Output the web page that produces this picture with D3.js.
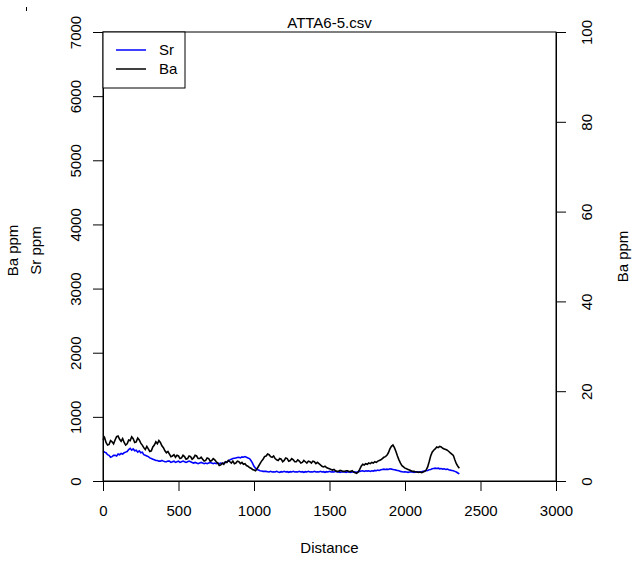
<!DOCTYPE html>
<html>
<head>
<meta charset="utf-8">
<script src="https://cdn.jsdelivr.net/npm/d3@7"></script>
<style>
  body { margin: 0; background: #fff; }
  text { font-family: "Liberation Sans", Arial, sans-serif; }
</style>
</head>
<body>
<div id="chart"></div>
<script>
// ----------------------
// Data
// ----------------------
const title = "ATTA6-5.csv";
const xTicks = [0, 500, 1000, 1500, 2000, 2500, 3000];
const leftTicks = [0, 1000, 2000, 3000, 4000, 5000, 6000, 7000];
const rightTicks = [0, 20, 40, 60, 80, 100];

// distance between samples (first sample at 0)
const step = 10;

const baValues = [
  640, 680, 600, 560, 570, 630, 610, 580, 640, 690,
  700, 650, 620, 660, 600, 560, 580, 640, 630, 690,
  660, 600, 610, 670, 640, 590, 560, 520, 490, 540,
  500, 460, 470, 530, 560, 610, 580, 630, 600, 550,
  520, 470, 440, 460, 420, 380, 390, 410, 370, 400,
  390, 350, 360, 400, 380, 340, 350, 390, 380, 340,
  360, 400, 390, 350, 350, 370, 340, 310, 320, 360,
  350, 310, 320, 350, 330, 300, 280, 240, 250, 280,
  260, 300, 290, 320, 300, 280, 310, 270, 280, 310,
  300, 270, 290, 260, 270, 240, 230, 210, 200, 180,
  170, 160, 190, 230, 270, 310, 340, 380, 390, 420,
  410, 380, 370, 390, 350, 330, 320, 350, 340, 300,
  320, 360, 350, 310, 320, 350, 330, 300, 300, 330,
  310, 280, 290, 320, 300, 280, 310, 300, 280, 310,
  300, 270, 290, 270, 250, 230, 220, 230, 210, 200,
  190, 180, 170, 180, 160, 150, 150, 165, 160, 150,
  150, 160, 160, 145, 150, 160, 140, 130, 120, 140,
  180, 230, 260, 250, 270, 260, 280, 270, 290, 280,
  300, 290, 310, 320, 330, 350, 370, 380, 400, 440,
  500, 540, 560, 520, 460, 390, 330, 280, 240, 220,
  200, 190, 180, 170, 160, 150, 150, 140, 140, 135,
  140, 130, 140, 150, 170, 220, 300, 390, 450, 480,
  500, 530, 520, 540, 530, 510, 500, 490, 480, 460,
  440, 420, 400, 330, 270, 230, 200
];

const srValues = [
  470, 450, 440, 410, 400, 370, 380, 400, 400, 390,
  420, 410, 430, 420, 440, 450, 460, 490, 510, 480,
  500, 470, 480, 450, 470, 440, 450, 410, 400, 390,
  380, 360, 350, 340, 330, 320, 320, 310, 310, 320,
  310, 300, 300, 310, 310, 290, 300, 310, 290, 300,
  310, 290, 300, 310, 300, 290, 300, 310, 300, 290,
  280, 290, 280, 270, 280, 290, 280, 270, 280, 270,
  280, 290, 280, 270, 280, 270, 280, 270, 280, 270,
  280, 290, 300, 310, 330, 340, 350, 355, 360, 365,
  370, 360, 375, 370, 380, 370, 360, 350, 320, 280,
  230, 200, 180, 170, 160, 155, 150, 150, 150, 145,
  140, 150, 140, 145, 140, 150, 140, 135, 145, 140,
  150, 140, 145, 135, 145, 140, 150, 140, 145, 140,
  150, 140, 145, 135, 145, 140, 150, 140, 145, 140,
  150, 140, 145, 140, 150, 140, 145, 135, 145, 140,
  150, 140, 145, 140, 150, 140, 145, 135, 140, 145,
  140, 135, 145, 140, 135, 140, 145, 140, 135, 145,
  150, 155, 160, 150, 160, 155, 160, 150, 160, 155,
  165, 160, 170, 165, 175, 180, 185, 180, 185, 180,
  190, 185, 180, 175, 170, 165, 160, 150, 145, 140,
  145, 140, 135, 140, 145, 140, 135, 140, 145, 140,
  140, 145, 150, 155, 160, 165, 175, 180, 190, 195,
  200, 195, 200, 190, 195, 185, 190, 180, 185, 175,
  170, 165, 160, 150, 140, 125, 110
];

// ----------------------
// Chart setup
// ----------------------
const width = 637;
const height = 565;
const plot = { left: 103, right: 556, top: 32, bottom: 481 };

const svg = d3.select("#chart")
  .append("svg")
  .attr("width", width)
  .attr("height", height);

const x = d3.scaleLinear().domain([0, 3000]).range([plot.left, plot.right]);
const yLeft = d3.scaleLinear().domain([0, 7000]).range([plot.bottom, plot.top]);
const yRight = d3.scaleLinear().domain([0, 100]).range([plot.bottom, plot.top]);

const line = d3.line()
  .x((d, i) => x(i * step))
  .y(d => yLeft(d));

svg.append("path")
  .datum(srValues)
  .attr("fill", "none")
  .attr("stroke", "#0000ff")
  .attr("stroke-width", 1.6)
  .attr("d", line);

svg.append("path")
  .datum(baValues)
  .attr("fill", "none")
  .attr("stroke", "#000")
  .attr("stroke-width", 1.6)
  .attr("d", line);

// plot box
svg.append("rect")
  .attr("x", plot.left)
  .attr("y", plot.top)
  .attr("width", plot.right - plot.left)
  .attr("height", plot.bottom - plot.top)
  .attr("fill", "none")
  .attr("stroke", "#000")
  .attr("stroke-width", 1);

// ----------------------
// Axes
// ----------------------
const fmt = d3.format("d");

const xAxis = svg.append("g")
  .attr("transform", `translate(0, ${plot.bottom})`)
  .call(d3.axisBottom(x).tickValues(xTicks).tickFormat(fmt).tickSize(10).tickSizeOuter(0));

const leftAxis = svg.append("g")
  .attr("transform", `translate(${plot.left}, 0)`)
  .call(d3.axisLeft(yLeft).tickValues(leftTicks).tickFormat(fmt).tickSize(10).tickSizeOuter(0));

const rightAxis = svg.append("g")
  .attr("transform", `translate(${plot.right}, 0)`)
  .call(d3.axisRight(yRight).tickValues(rightTicks).tickFormat(fmt).tickSize(10).tickSizeOuter(0));

[xAxis, leftAxis, rightAxis].forEach(g => {
  g.select(".domain").attr("stroke", "#000");
  g.selectAll(".tick line").attr("stroke", "#000");
  g.selectAll("text")
    .attr("font-family", "Liberation Sans, Arial, sans-serif")
    .attr("font-size", 15)
    .attr("fill", "#000");
});

// x labels below axis
xAxis.selectAll("text").attr("dy", 0).attr("y", 35);

// y labels rotated, reading upward as in R
leftAxis.selectAll("text")
  .attr("x", 0)
  .attr("dy", 0)
  .attr("y", -22)
  .attr("text-anchor", "middle")
  .attr("transform", "rotate(-90)");

rightAxis.selectAll("text")
  .attr("x", 0)
  .attr("dy", 0)
  .attr("y", 36)
  .attr("text-anchor", "middle")
  .attr("transform", "rotate(-90)");

// ----------------------
// Titles
// ----------------------
const midY = (plot.top + plot.bottom) / 2;

svg.append("text")
  .attr("x", (plot.left + plot.right) / 2)
  .attr("y", 28)
  .attr("text-anchor", "middle")
  .attr("font-size", 15)
  .text(title);

svg.append("text")
  .attr("x", (plot.left + plot.right) / 2)
  .attr("y", 553)
  .attr("text-anchor", "middle")
  .attr("font-size", 15)
  .text("Distance");

svg.append("text")
  .attr("transform", `translate(18, ${midY - 6}) rotate(-90)`)
  .attr("text-anchor", "middle")
  .attr("font-size", 15)
  .text("Ba ppm");

svg.append("text")
  .attr("transform", `translate(41, ${midY - 6}) rotate(-90)`)
  .attr("text-anchor", "middle")
  .attr("font-size", 15)
  .text("Sr ppm");

svg.append("text")
  .attr("transform", `translate(628, ${midY}) rotate(-90)`)
  .attr("text-anchor", "middle")
  .attr("font-size", 15)
  .text("Ba ppm");

// ----------------------
// Legend
// ----------------------
const legendItems = [
  { name: "Sr", color: "#0000ff" },
  { name: "Ba", color: "#000" }
];

const legend = svg.append("g");

legend.append("rect")
  .attr("x", plot.left)
  .attr("y", plot.top)
  .attr("width", 82)
  .attr("height", 56)
  .attr("fill", "#fff")
  .attr("stroke", "#000");

legendItems.forEach((item, i) => {
  const ly = 50 + i * 19;
  legend.append("line")
    .attr("x1", 116).attr("x2", 146)
    .attr("y1", ly).attr("y2", ly)
    .attr("stroke", item.color)
    .attr("stroke-width", 1.5);
  legend.append("text")
    .attr("x", 159)
    .attr("y", ly + 5)
    .attr("font-size", 15)
    .text(item.name);
});

// small stray mark at the top left corner of the original
svg.append("line")
  .attr("x1", 26.5).attr("x2", 26.5)
  .attr("y1", 7).attr("y2", 11)
  .attr("stroke", "#000");
</script>
</body>
</html>
